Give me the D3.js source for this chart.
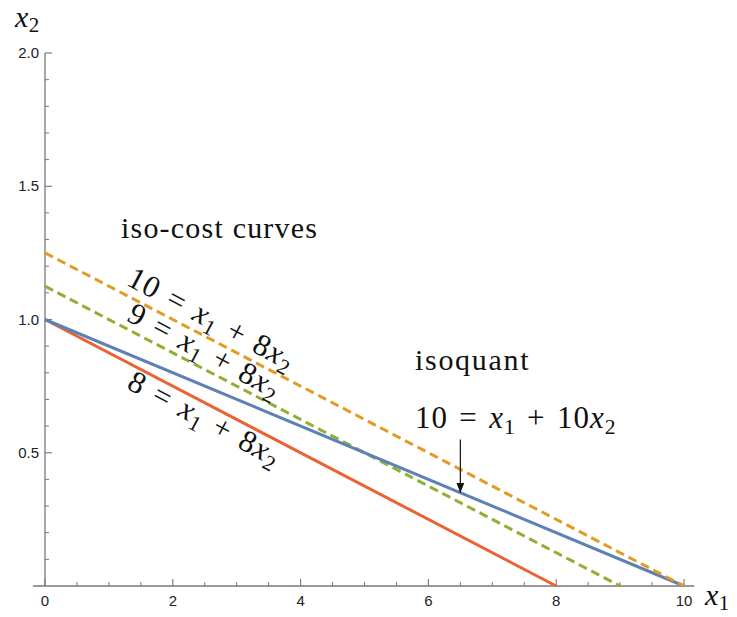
<!DOCTYPE html>
<html>
<head>
<meta charset="utf-8">
<script src="https://cdn.jsdelivr.net/npm/d3@7"></script>
<style>
  body { margin: 0; background: #fff; }
  svg { display: block; }
  .tick-label { font-family: "Liberation Sans", Arial, sans-serif; font-size: 15px; fill: #222; }
  .math { font-family: "Liberation Serif", "DejaVu Serif", serif; fill: #111; }
</style>
</head>
<body>
<div id="chart"></div>
<script>
// data
const isoCost10 = [[0, 1.25], [10, 0]];
const isoCost9 = [[0, 1.125], [9, 0]];
const isoCost8 = [[0, 1.0], [8, 0]];
const isoquant = [[0, 1.0], [10, 0]];
const arrowPts = [[6.5, 0.55], [6.5, 0.35]];
const xMajor = [0, 2, 4, 6, 8, 10];
const xMinor = [0.5, 1, 1.5, 2.5, 3, 3.5, 4.5, 5, 5.5, 6.5, 7, 7.5, 8.5, 9, 9.5];
const yMajor = [0.5, 1.0, 1.5, 2.0];
const yMinor = [0.1, 0.2, 0.3, 0.4, 0.6, 0.7, 0.8, 0.9, 1.1, 1.2, 1.3, 1.4, 1.6, 1.7, 1.8, 1.9];

const width = 737, height = 617;
const svg = d3.select("#chart").append("svg")
    .attr("width", width)
    .attr("height", height);

const x = d3.scaleLinear().domain([0, 10]).range([45, 684]);
const y = d3.scaleLinear().domain([0, 2]).range([586, 53]);

const axisColor = "#777";

// x axis
svg.append("line")
    .attr("x1", x(-0.19)).attr("x2", x(10.16))
    .attr("y1", y(0)).attr("y2", y(0))
    .attr("stroke", axisColor).attr("stroke-width", 1.3);
svg.selectAll("line.xmaj").data(xMajor).enter().append("line")
    .attr("class", "xmaj")
    .attr("x1", d => x(d)).attr("x2", d => x(d))
    .attr("y1", y(0)).attr("y2", y(0) - 7)
    .attr("stroke", axisColor).attr("stroke-width", 1.1);
svg.selectAll("line.xmin").data(xMinor).enter().append("line")
    .attr("class", "xmin")
    .attr("x1", d => x(d)).attr("x2", d => x(d))
    .attr("y1", y(0)).attr("y2", y(0) - 4)
    .attr("stroke", axisColor).attr("stroke-width", 1);
svg.selectAll("text.xlab").data(xMajor).enter().append("text")
    .attr("class", "xlab tick-label")
    .attr("x", d => x(d)).attr("y", y(0) + 20)
    .attr("text-anchor", "middle")
    .text(d => d);

// y axis
svg.append("line")
    .attr("x1", x(0)).attr("x2", x(0))
    .attr("y1", y(0)).attr("y2", y(2.0))
    .attr("stroke", axisColor).attr("stroke-width", 1.3);
svg.selectAll("line.ymaj").data(yMajor).enter().append("line")
    .attr("class", "ymaj")
    .attr("x1", x(0)).attr("x2", x(0) + 7)
    .attr("y1", d => y(d)).attr("y2", d => y(d))
    .attr("stroke", axisColor).attr("stroke-width", 1.1);
svg.selectAll("line.ymin").data(yMinor).enter().append("line")
    .attr("class", "ymin")
    .attr("x1", x(0)).attr("x2", x(0) + 4)
    .attr("y1", d => y(d)).attr("y2", d => y(d))
    .attr("stroke", axisColor).attr("stroke-width", 1);
svg.selectAll("text.ylab").data(yMajor).enter().append("text")
    .attr("class", "ylab tick-label")
    .attr("x", x(0) - 6).attr("y", d => y(d) + 5)
    .attr("text-anchor", "end")
    .text(d => d.toFixed(1));

// lines
const line = d3.line().x(d => x(d[0])).y(d => y(d[1]));
svg.append("path").datum(isoCost8).attr("d", line)
    .attr("fill", "none").attr("stroke", "#EB6235").attr("stroke-width", 3);
svg.append("path").datum(isoCost9).attr("d", line)
    .attr("fill", "none").attr("stroke", "#8FB032").attr("stroke-width", 3)
    .attr("stroke-dasharray", "9,5");
svg.append("path").datum(isoquant).attr("d", line)
    .attr("fill", "none").attr("stroke", "#5E81B5").attr("stroke-width", 3);
svg.append("path").datum(isoCost10).attr("d", line)
    .attr("fill", "none").attr("stroke", "#E19C24").attr("stroke-width", 3)
    .attr("stroke-dasharray", "9,5");

// arrow
svg.append("defs").append("marker")
    .attr("id", "arrowhead")
    .attr("viewBox", "0 0 10 10")
    .attr("refX", 10).attr("refY", 5)
    .attr("markerWidth", 10).attr("markerHeight", 10)
    .attr("markerUnits", "userSpaceOnUse")
    .attr("orient", "auto")
    .append("path").attr("d", "M0,1 L10,5 L0,9 Z").attr("fill", "#111");
svg.append("path").datum(arrowPts).attr("d", line)
    .attr("stroke", "#111").attr("stroke-width", 1.2)
    .attr("marker-end", "url(#arrowhead)");

// math text helper: parts = [text, style] where style in "r","i","sub"
function mathText(g, parts, size, spacing) {
    const t = g.append("text").attr("class", "math")
        .attr("font-size", size)
        .attr("letter-spacing", spacing === undefined ? 1 : spacing);
    parts.forEach(p => {
        const s = t.append("tspan").text(p[0]);
        if (p[1] === "i") s.attr("font-style", "italic");
        if (p[1] === "sub") s.attr("font-size", size * 0.7).attr("baseline-shift", "-25%");
    });
    return t;
}
const sp = "\u2004";
function eq(c, k) {
    return [[c + sp + "=" + sp, "r"], ["x", "i"], ["1", "sub"], [sp + "+" + sp + k, "r"], ["x", "i"], ["2", "sub"]];
}

// axis labels
const xl = svg.append("g").attr("transform", "translate(705,605)");
mathText(xl, [["x", "i"], ["1", "sub"]], 30, 0.5);
const yl = svg.append("g").attr("transform", "translate(15,27)");
mathText(yl, [["x", "i"], ["2", "sub"]], 30, 0.5);

// annotations
const g1 = svg.append("g").attr("transform", "translate(121,238)");
mathText(g1, [["iso-cost curves", "r"]], 30, 1.2);
const g2 = svg.append("g").attr("transform", "translate(415,370)");
mathText(g2, [["isoquant", "r"]], 30, 1.7);
const g3 = svg.append("g").attr("transform", "translate(415,428)");
mathText(g3, eq(10, 10), 31);

const ang = 28;
const l10 = svg.append("g").attr("transform", `translate(212,318) rotate(${ang})`);
mathText(l10, eq(10, 8), 31).attr("text-anchor", "middle").attr("dy", "0.35em");
const l9 = svg.append("g").attr("transform", `translate(205,350) rotate(${ang})`);
mathText(l9, eq(9, 8), 31).attr("text-anchor", "middle").attr("dy", "0.35em");
const l8 = svg.append("g").attr("transform", `translate(205,418) rotate(${ang})`);
mathText(l8, eq(8, 8), 31).attr("text-anchor", "middle").attr("dy", "0.35em");
</script>
</body>
</html>
